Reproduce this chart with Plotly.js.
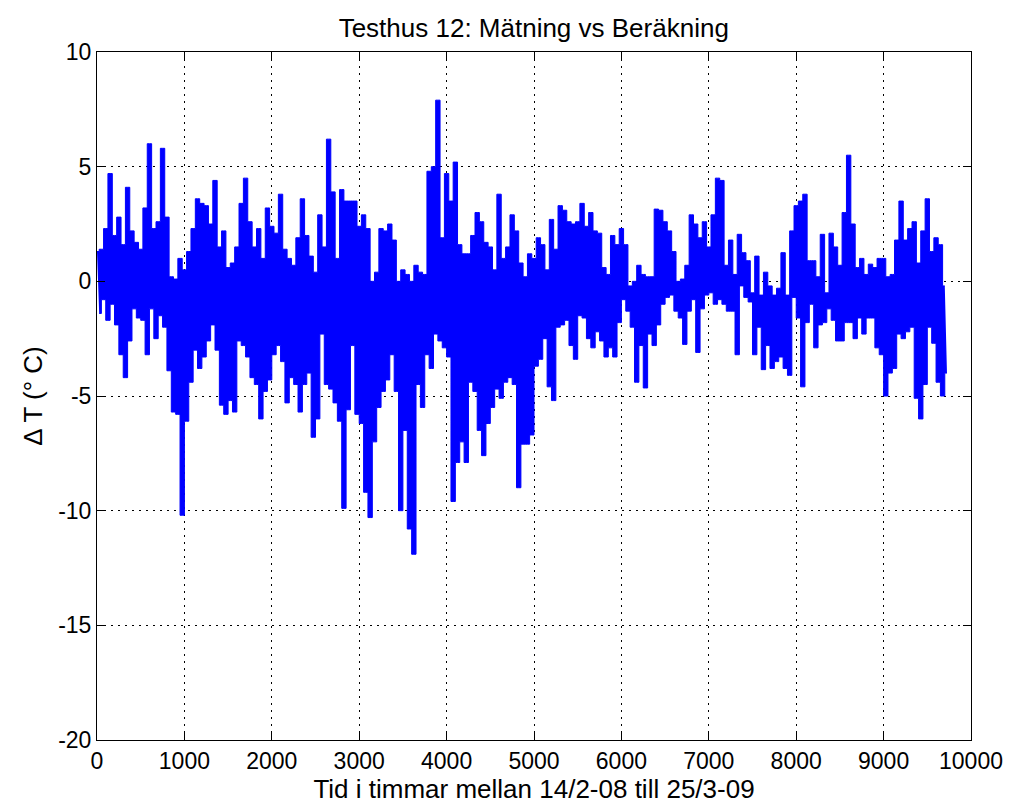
<!DOCTYPE html>
<html>
<head>
<meta charset="utf-8">
<script src="https://cdn.plot.ly/plotly-3.0.1.min.js"></script>
<style>html,body{margin:0;padding:0;background:#fff;}#chart{width:1009px;height:808px;}</style>
</head>
<body>
<div id="chart"></div>
<script>
const blockHours = 50;
const upperValues = [
 1.3,1.4,2.3,4.7,2.0,2.8,1.6,4.1,2.2,1.7,
 1.4,3.2,6.0,2.3,2.6,5.8,2.8,0.2,0.1,1.0,
 0.5,1.3,2.3,3.6,3.4,3.3,2.5,4.4,1.5,2.2,
 0.6,0.8,1.5,3.4,4.5,2.6,1.5,2.3,1.0,3.2,
 2.4,2.1,3.8,1.4,1.0,0.7,1.9,3.6,2.0,1.1,
 0.4,2.9,1.5,6.2,3.9,1.0,4.0,3.5,3.5,3.5,
 2.4,2.9,2.3,0.0,0.4,2.3,2.2,2.5,1.8,0.0,
 0.5,0.3,0.0,0.7,0.4,0.3,4.8,5.0,7.9,1.9,
 4.7,3.5,5.2,1.6,1.2,1.2,2.0,3.0,2.6,1.7,
 1.5,0.5,3.8,1.0,1.5,2.9,2.2,0.8,0.2,1.2,
 1.0,1.9,1.6,0.5,2.7,1.4,3.3,3.1,2.6,2.5,
 2.6,3.4,2.4,3.0,2.2,2.1,0.6,0.3,2.0,1.6,
 2.3,1.6,-0.2,0.0,0.7,0.3,0.2,0.2,3.15,3.1,
 2.6,2.2,1.3,0.0,0.1,0.7,2.9,2.5,1.9,2.6,
 1.5,2.9,4.5,4.4,0.7,1.8,0.3,2.05,1.25,0.9,
 -0.5,1.1,-0.6,0.4,-0.2,-0.6,-0.3,1.25,-0.6,2.2,
 3.3,3.5,3.8,0.9,0.9,0.2,2.05,-0.5,2.1,1.5,
 0.7,3.0,5.5,2.5,0.6,1.0,0.3,0.75,0.6,1.0,
 1.0,0.2,0.3,1.8,3.5,1.8,2.3,2.6,0.8,2.2,
 3.6,1.3,1.9,1.6,-0.2
];
const lowerValues = [
 -1.4,-0.8,-1.7,-1.0,-1.9,-3.2,-4.2,-2.6,-1.2,-1.6,
 -1.7,-3.2,-1.2,-2.5,-1.5,-2.0,-3.9,-5.7,-5.8,-10.2,
 -6.1,-4.4,-3.0,-3.8,-3.3,-2.6,-1.9,-3.0,-5.4,-5.8,
 -5.2,-5.7,-2.6,-2.8,-3.3,-4.2,-4.5,-6.0,-4.8,-4.3,
 -3.2,-2.8,-3.5,-5.3,-4.2,-4.5,-5.7,-4.5,-4.0,-6.8,
 -6.0,-2.3,-4.5,-4.7,-5.3,-6.1,-9.9,-5.6,-2.8,-5.8,
 -6.2,-9.2,-10.3,-7.0,-5.5,-4.8,-4.3,-3.2,-4.8,-10.0,
 -6.5,-10.8,-11.9,-4.5,-5.5,-3.2,-3.8,-2.3,-2.6,-2.9,
 -3.3,-9.6,-7.9,-7.0,-7.9,-4.4,-4.8,-6.5,-7.6,-6.2,
 -5.5,-4.7,-5.1,-4.4,-4.2,-4.5,-9.0,-7.1,-7.1,-6.7,
 -3.7,-3.4,-2.5,-4.6,-5.2,-2.0,-1.9,-1.7,-2.8,-3.4,
 -1.5,-1.6,-2.5,-2.9,-2.2,-2.6,-3.3,-2.9,-3.3,-1.8,
 -0.8,-1.3,-2.0,-4.4,-2.8,-4.65,-2.3,-2.8,-1.9,-1.0,
 -0.7,-0.6,-1.3,-1.6,-2.75,-1.3,-0.8,-3.1,-1.2,-0.6,
 -0.5,-1.0,-0.8,-1.0,-1.3,-1.3,-3.2,-0.2,-0.7,-0.9,
 -3.2,-2.0,-3.85,-2.8,-3.8,-3.5,-3.3,-3.8,-4.1,-0.7,
 -1.6,-4.6,-1.8,-1.0,-2.9,-1.9,-1.8,-1.2,-1.7,-2.6,
 -2.6,-1.8,-1.8,-2.5,-1.6,-2.3,-1.6,-1.6,-2.9,-3.2,
 -5.0,-4.0,-3.8,-2.3,-2.5,-2.2,-2.0,-5.1,-6.0,-4.5,
 -2.0,-2.7,-4.4,-5.0,-4.0
];
const xTickValues = [0,1000,2000,3000,4000,5000,6000,7000,8000,9000,10000];
const yTickValues = [-20,-15,-10,-5,0,5,10];

const upperHours = upperValues.map((v, i) => i * blockHours);
const lowerHours = lowerValues.map((v, i) => i * blockHours + blockHours / 2);

const tickFont = {family: 'Liberation Sans, Arial, sans-serif', size: 23, color: '#000'};
const labelFont = {family: 'Liberation Sans, Arial, sans-serif', size: 26, color: '#000'};
const axisCommon = {
  showline: true, linecolor: '#000', linewidth: 1, mirror: 'ticks',
  ticks: 'inside', ticklen: 8, tickcolor: '#000', tickwidth: 1,
  showgrid: true, gridcolor: '#000', griddash: '2px,5px', gridwidth: 1,
  zeroline: false, tickfont: tickFont, fixedrange: true
};

Plotly.newPlot('chart', [
  {x: lowerHours, y: lowerValues, type: 'scatter', mode: 'lines',
   line: {color: '#0000ff', width: 1, shape: 'hvh'}, hoverinfo: 'skip'},
  {x: upperHours, y: upperValues, type: 'scatter', mode: 'lines',
   line: {color: '#0000ff', width: 1, shape: 'hvh'}, fill: 'tonexty', fillcolor: '#0000ff', hoverinfo: 'skip'}
], {
  width: 1009, height: 808,
  paper_bgcolor: '#fff', plot_bgcolor: '#fff',
  margin: {l: 97, r: 38, t: 52, b: 68},
  showlegend: false,
  title: {text: 'Testhus 12: Mätning vs Beräkning', font: labelFont, x: 0.529, xanchor: 'center', y: 0.966, yanchor: 'middle'},
  xaxis: Object.assign({}, axisCommon, {
    range: [0, 10000], tickvals: xTickValues, ticktext: xTickValues.map(String),
    title: {text: 'Tid i timmar mellan 14/2-08 till 25/3-09', font: labelFont, standoff: 2}
  }),
  yaxis: Object.assign({}, axisCommon, {
    range: [-20, 10], tickvals: yTickValues, ticktext: yTickValues.map(String),
    title: {text: 'Δ T (° C)', font: labelFont, standoff: 8}
  })
}, {displayModeBar: false, staticPlot: true});
</script>
</body>
</html>
